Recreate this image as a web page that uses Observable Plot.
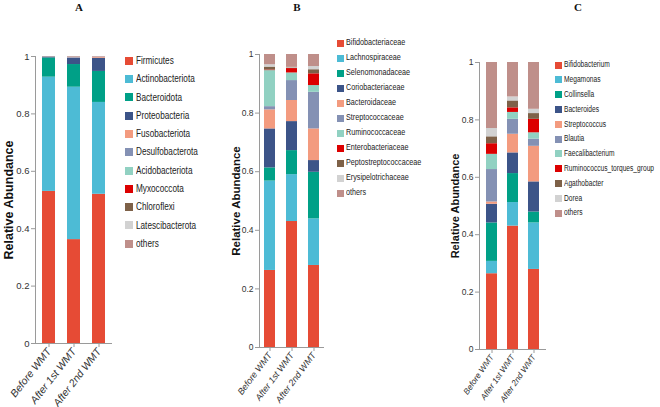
<!DOCTYPE html>
<html>
<head>
<meta charset="utf-8">
<script src="https://cdn.jsdelivr.net/npm/d3@7"></script>
<script src="https://cdn.jsdelivr.net/npm/@observablehq/plot@0.6"></script>
<style>
  html, body { margin: 0; padding: 0; background: #fff; }
  #root { position: relative; width: 660px; height: 407px; overflow: hidden; background: #fff; }
  #root svg { position: absolute; top: 0; }
  g[aria-label="y-axis tick"], g[aria-label="x-axis tick"] { stroke: #9a9a9a; }
  .leg { position: absolute; font-family: "Liberation Sans", Arial, sans-serif; color: #222; white-space: nowrap; }
  .leg .sw { position: absolute; }
  .leg .lb { position: absolute; line-height: 1; transform-origin: 0 50%; }
  .title { position: absolute; font-family: "Liberation Serif", "Times New Roman", serif; font-weight: bold; font-size: 11px; color: #111; transform: translate(-50%, 0); }
</style>
</head>
<body>
<div id="root"></div>
<script>
// ---------- data ----------
const samples = ["Before WMT", "After 1st WMT", "After 2nd WMT"];
const colors = ["#E64B35", "#4DBBD5", "#00A087", "#3C5488", "#F39B7F", "#8491B4", "#91D1C2", "#DC0000", "#7E6148", "#D2D2D2", "#BF8F8A"];

// Panel A: phylum level
const phylaA = ["Firmicutes", "Actinobacteriota", "Bacteroidota", "Proteobacteria", "Fusobacteriota", "Desulfobacterota", "Acidobacteriota", "Myxococcota", "Chloroflexi", "Latescibacterota", "others"];
const phylaA_before = [0.530, 0.398, 0.067, 0.003, 0.0005, 0.0005, 0.0002, 0.0001, 0.0001, 0.0001, 0.0005];
const phylaA_after1 = [0.362, 0.531, 0.079, 0.022, 0.001, 0.002, 0.0005, 0.0002, 0.0002, 0.0001, 0.002];
const phylaA_after2 = [0.520, 0.320, 0.108, 0.046, 0.004, 0.001, 0.0003, 0.0002, 0.0002, 0.0001, 0.0002];

// Panel B: family level
const familiesB = ["Bifidobacteriaceae", "Lachnospiraceae", "Selenomonadaceae", "Coriobacteriaceae", "Bacteroidaceae", "Streptococcaceae", "Ruminococcaceae", "Enterobacteriaceae", "Peptostreptococcaceae", "Erysipelotrichaceae", "others"];
const familiesB_before = [0.263, 0.305, 0.045, 0.133, 0.065, 0.011, 0.123, 0.002, 0.010, 0.008, 0.035];
const familiesB_after1 = [0.430, 0.160, 0.082, 0.099, 0.072, 0.068, 0.026, 0.015, 0.002, 0.002, 0.044];
const familiesB_after2 = [0.280, 0.159, 0.159, 0.040, 0.108, 0.125, 0.023, 0.040, 0.014, 0.011, 0.041];

// Panel C: genus level
const generaC = ["Bifidobacterium", "Megamonas", "Collinsella", "Bacteroides", "Streptococcus", "Blautia", "Faecalibacterium", "Ruminococcus_torques_group", "Agathobacter", "Dorea", "others"];
const generaC_before = [0.264, 0.043, 0.134, 0.065, 0.008, 0.113, 0.053, 0.037, 0.024, 0.029, 0.230];
const generaC_after1 = [0.430, 0.082, 0.101, 0.072, 0.065, 0.052, 0.024, 0.016, 0.024, 0.014, 0.120];
const generaC_after2 = [0.279, 0.162, 0.038, 0.105, 0.124, 0.025, 0.022, 0.047, 0.020, 0.015, 0.163];

const yTicks = [0, 0.2, 0.4, 0.6, 0.8, 1];
const yLabel = "Relative Abundance";
const titles = ["A", "B", "C"];

// ---------- build ----------
function rows(taxa, series) {
  const out = [];
  series.forEach((vals, si) => {
    taxa.forEach((t, ti) => out.push({sample: samples[si], taxon: t, value: vals[ti]}));
  });
  return out;
}

const root = document.getElementById("root");

function panel(cfg) {
  const data = rows(cfg.taxa, cfg.series);
  const svg = Plot.plot({
    width: cfg.width,
    height: 407,
    marginLeft: cfg.ml,
    marginRight: cfg.mr,
    marginTop: cfg.mt,
    marginBottom: cfg.mb,
    style: {fontFamily: "'Liberation Sans', Arial, sans-serif", color: "#333", background: "transparent"},
    x: {type: "band", domain: samples, paddingInner: cfg.pi, paddingOuter: cfg.po, axis: null},
    y: {domain: [0, 1], axis: null},
    color: {domain: cfg.taxa, range: colors},
    marks: [
      Plot.barY(data, {x: "sample", y: "value", fill: "taxon"}),
      Plot.frame({anchor: "left", stroke: "#9a9a9a"}),
      Plot.ruleY([0], {stroke: "#9a9a9a"}),
      Plot.axisY({ticks: yTicks, tickFormat: d => String(d), tickSize: 4, tickPadding: 2, fontSize: cfg.yfs, label: null}),
      Plot.axisX({tickSize: 4, tickPadding: 2, tickRotate: cfg.rot, fontSize: cfg.xfs, fontStyle: "italic", label: null}),
      Plot.text([yLabel], {frameAnchor: "left", rotate: -90, dx: cfg.ldx, text: d => d, fontWeight: "bold", fontSize: cfg.lfs, fill: "#111", textAnchor: "middle"})
    ]
  });
  svg.style.left = cfg.left + "px";
  root.appendChild(svg);

  // legend
  const leg = document.createElement("div");
  leg.className = "leg";
  leg.style.left = cfg.legX + "px";
  leg.style.top = "0px";
  cfg.taxa.forEach((t, i) => {
    const cy = cfg.legY + i * cfg.legStep;
    const sw = document.createElement("div");
    sw.className = "sw";
    sw.style.left = "0px";
    sw.style.top = (cy - cfg.sq / 2) + "px";
    sw.style.width = cfg.sq + "px";
    sw.style.height = cfg.sq + "px";
    sw.style.background = colors[i];
    const lb = document.createElement("div");
    lb.className = "lb";
    lb.textContent = t;
    lb.style.left = (cfg.sq + cfg.gap) + "px";
    lb.style.top = (cy - cfg.lfz * 0.55) + "px";
    lb.style.fontSize = cfg.lfz + "px";
    lb.style.transform = "scaleX(" + cfg.squeeze + ")";
    leg.appendChild(sw);
    leg.appendChild(lb);
  });
  root.appendChild(leg);

  const tt = document.createElement("div");
  tt.className = "title";
  tt.textContent = cfg.title;
  tt.style.left = cfg.titleX + "px";
  tt.style.top = "1px";
  root.appendChild(tt);
}

panel({
  taxa: phylaA, series: [phylaA_before, phylaA_after1, phylaA_after2],
  left: 0, width: 118, ml: 35, mr: 6, mt: 56, mb: 64, pi: 0.48, po: 0.28,
  yfs: 9.5, xfs: 10.5, rot: -52, lfs: 12.5, ldx: -27,
  legX: 124.5, legY: 60.7, legStep: 18.3, sq: 8, gap: 3.5, lfz: 10.5, squeeze: 0.78,
  title: titles[0], titleX: 79
});
panel({
  taxa: familiesB, series: [familiesB_before, familiesB_after1, familiesB_after2],
  left: 225, width: 105, ml: 34, mr: 6, mt: 54, mb: 60, pi: 0.49, po: 0.19,
  yfs: 8.5, xfs: 9, rot: -53, lfs: 11.5, ldx: -23,
  legX: 336.5, legY: 43, legStep: 15, sq: 7, gap: 2, lfz: 9, squeeze: 0.8,
  title: titles[1], titleX: 297
});
panel({
  taxa: generaC, series: [generaC_before, generaC_after1, generaC_after2],
  left: 445, width: 107, ml: 34, mr: 6, mt: 62, mb: 58, pi: 0.47, po: 0.28,
  yfs: 8.5, xfs: 8.3, rot: -55, lfs: 11, ldx: -24,
  legX: 555.3, legY: 65, legStep: 14.8, sq: 7, gap: 2, lfz: 8.3, squeeze: 0.8,
  title: titles[2], titleX: 578
});
</script>
</body>
</html>
